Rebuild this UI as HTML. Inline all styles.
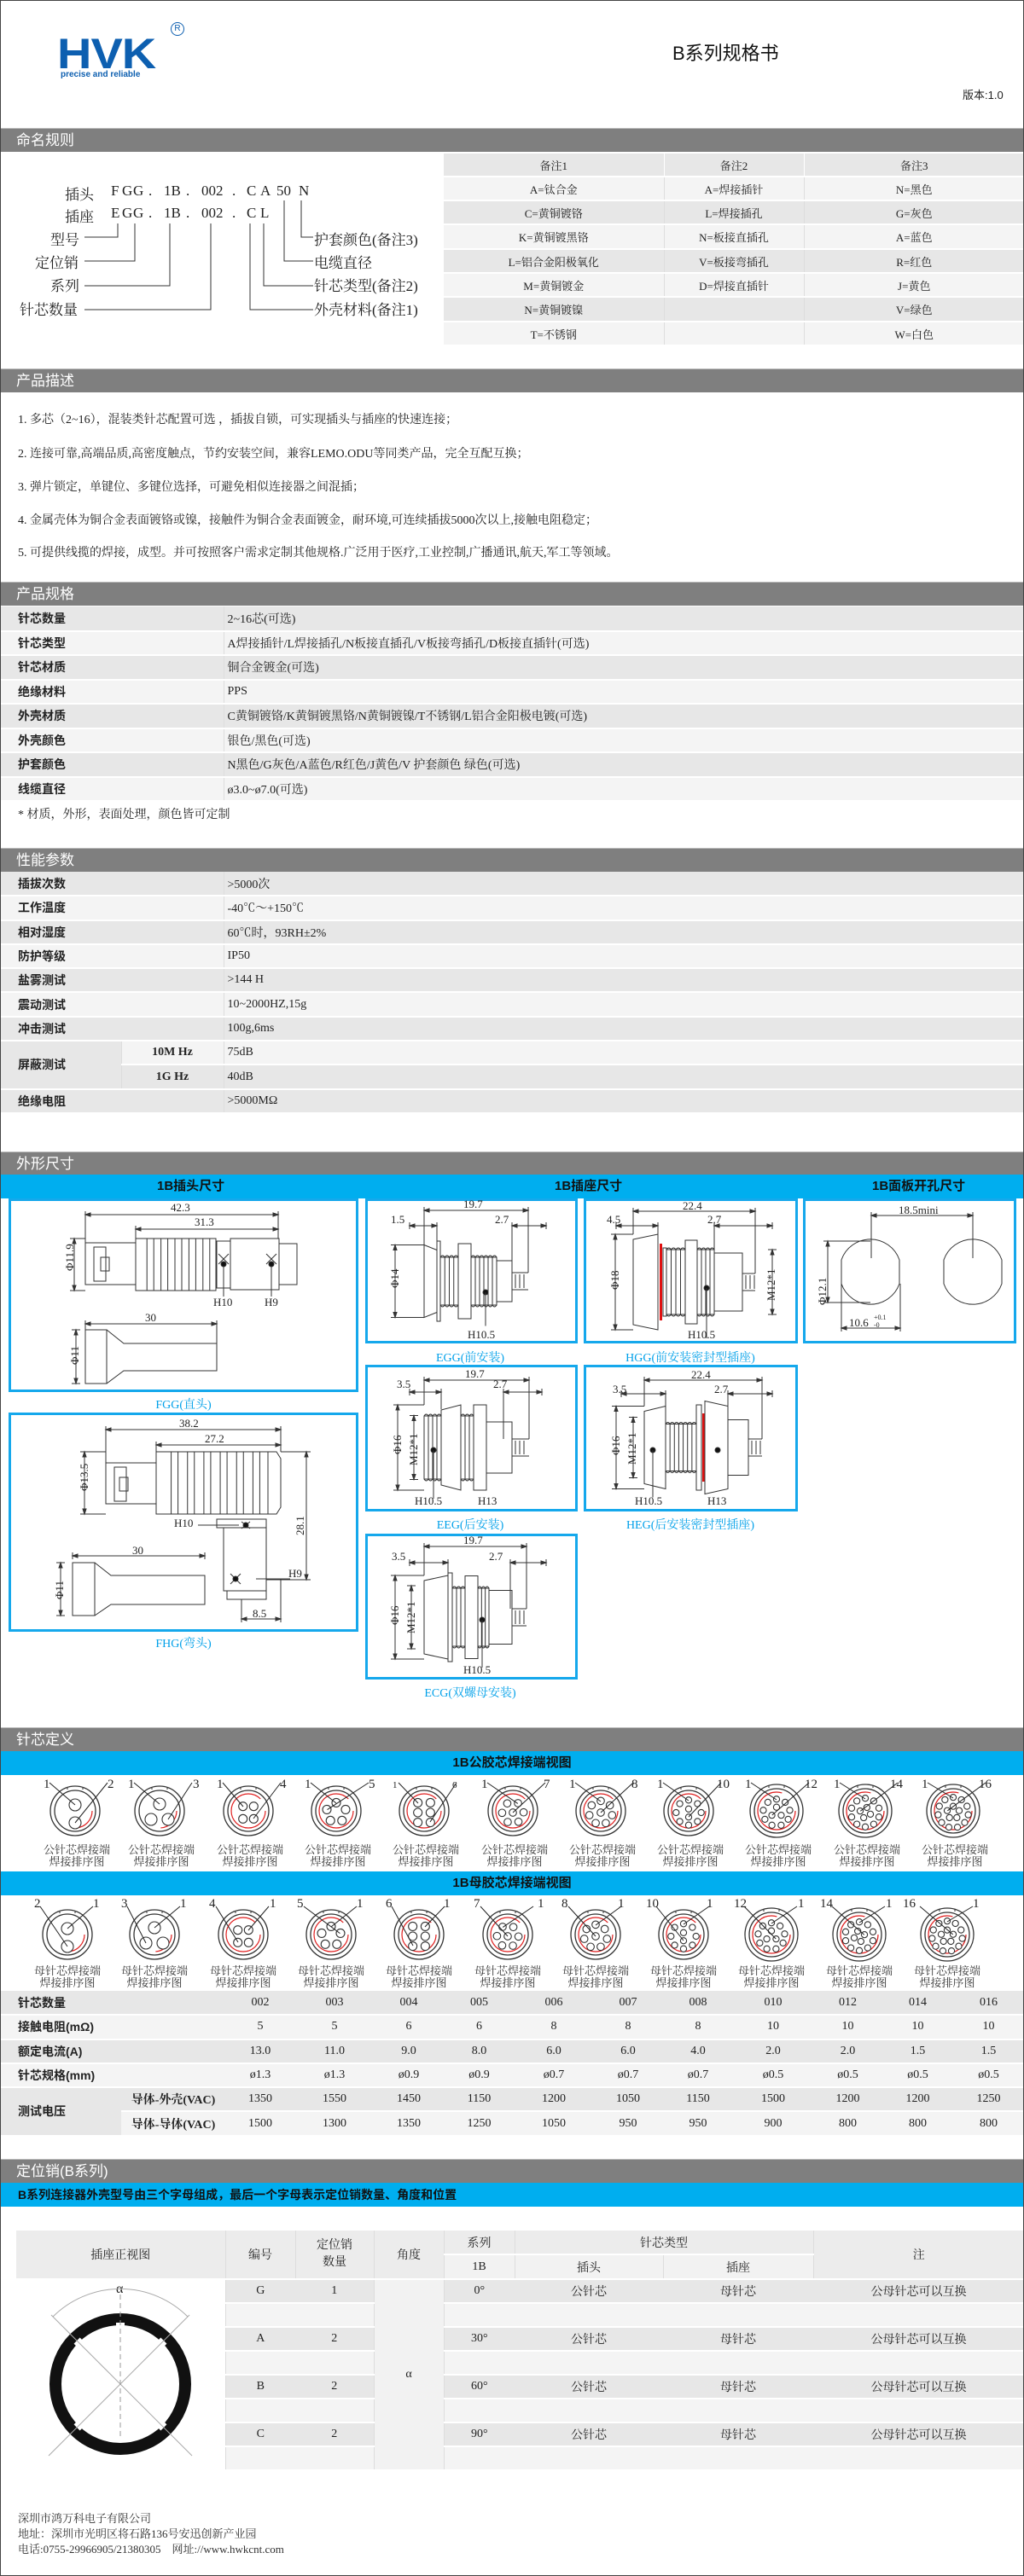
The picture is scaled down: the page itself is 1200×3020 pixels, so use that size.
<!DOCTYPE html>
<html><head><meta charset="utf-8">
<style>
*{margin:0;padding:0;box-sizing:border-box}
body{width:1200px;height:3020px;position:relative;background:#fff;font-family:"Liberation Serif","Noto Serif CJK SC",serif;color:#222;overflow:hidden}
.a{position:absolute;white-space:nowrap}
.bar{position:absolute;left:0;width:1200px;height:28px;background:#7f7f7f;color:#fff;font-family:"Liberation Sans","Noto Sans CJK SC",sans-serif;font-size:17px;line-height:28px;padding-left:19px;border-top:1px solid #bbb}
.blue{position:absolute;left:0;width:1200px;height:28px;background:#00aeef;font-family:"Liberation Sans","Noto Sans CJK SC",sans-serif;font-weight:bold;font-size:15px;line-height:28px;color:#111}
table{position:absolute;border-collapse:collapse;font-size:14px}
td{border-bottom:2px solid #fff;padding:0;vertical-align:middle}
tr:nth-child(odd) td{background:#e7e7e7}
tr:nth-child(even) td{background:#f4f4f4}
.lb{font-weight:bold;font-family:"Liberation Sans","Noto Sans CJK SC",sans-serif;padding-left:21px;font-size:14px}
.c{text-align:center}
.nm{font-size:17px}
.cap{position:absolute;color:#00a0e9;font-size:14px;text-align:center;width:260px}
.bx{position:absolute;border:3px solid #15a8ec}
.pl{position:absolute;font-size:13px;text-align:center;width:110px;line-height:14px;color:#333}
</style></head><body>
<div style="position:absolute;left:0;top:0;width:1200px;height:3020px;border:1px solid #444;z-index:5;pointer-events:none"></div>

<!-- header -->
<div class="a" style="left:67px;top:30px;font-family:'Liberation Sans',sans-serif;font-weight:bold;font-size:56px;color:#0d5fb0;transform:scaleY(0.9);letter-spacing:-1px">HVK</div>
<div class="a" style="left:71px;top:82px;font-family:'Liberation Sans',sans-serif;font-weight:bold;font-size:10px;color:#0d5fb0">precise and reliable</div>
<div class="a" style="left:200px;top:26px;width:16px;height:16px;border:1.5px solid #0d5fb0;border-radius:50%;font-family:'Liberation Sans',sans-serif;font-size:10px;line-height:13px;text-align:center;color:#0d5fb0">R</div>
<div class="a" style="left:788px;top:45px;font-size:22px;font-family:'Liberation Sans','Noto Sans CJK SC',sans-serif;color:#111">B系列规格书</div>
<div class="a" style="left:1128px;top:101px;font-size:13px;font-family:'Liberation Sans','Noto Sans CJK SC',sans-serif">版本:1.0</div>

<div class="bar" style="top:150px">命名规则</div>

<!-- naming diagram -->
<div class="a nm" style="left:76px;top:214px">插头</div>
<div class="a nm" style="left:76px;top:240px">插座</div>
<div class="a nm" style="left:130px;top:214px">F</div><div class="a nm" style="left:130px;top:240px">E</div>
<div class="a nm" style="left:143px;top:214px">G</div><div class="a nm" style="left:143px;top:240px">G</div>
<div class="a nm" style="left:156px;top:214px">G</div><div class="a nm" style="left:156px;top:240px">G</div>
<div class="a nm" style="left:174px;top:214px">.</div><div class="a nm" style="left:174px;top:240px">.</div>
<div class="a nm" style="left:192px;top:214px">1B</div><div class="a nm" style="left:192px;top:240px">1B</div>
<div class="a nm" style="left:218px;top:214px">.</div><div class="a nm" style="left:218px;top:240px">.</div>
<div class="a nm" style="left:236px;top:214px">002</div><div class="a nm" style="left:236px;top:240px">002</div>
<div class="a nm" style="left:272px;top:214px">.</div><div class="a nm" style="left:272px;top:240px">.</div>
<div class="a nm" style="left:289px;top:214px">C</div><div class="a nm" style="left:289px;top:240px">C</div>
<div class="a nm" style="left:305px;top:214px">A</div><div class="a nm" style="left:305px;top:240px">L</div>
<div class="a nm" style="left:324px;top:214px">50</div>
<div class="a nm" style="left:350px;top:214px">N</div>
<div class="a nm" style="left:59px;top:267px">型号</div>
<div class="a nm" style="left:41px;top:294px">定位销</div>
<div class="a nm" style="left:59px;top:321px">系列</div>
<div class="a nm" style="left:23px;top:349px">针芯数量</div>
<div class="a nm" style="left:368px;top:267px">护套颜色(备注3)</div>
<div class="a nm" style="left:368px;top:294px">电缆直径</div>
<div class="a nm" style="left:368px;top:321px">针芯类型(备注2)</div>
<div class="a nm" style="left:368px;top:349px">外壳材料(备注1)</div>

<table style="left:520px;top:180px;width:680px;font-size:13px">
<colgroup><col style="width:258px"><col style="width:164px"><col></colgroup>
<tr style="height:27px"><td class="c" style="border-right:1px solid #fff">备注1</td><td class="c" style="border-right:1px solid #fff">备注2</td><td class="c">备注3</td></tr>
<tr style="height:28px"><td class="c" style="border-right:1px solid #ddd">A=钛合金</td><td class="c" style="border-right:1px solid #ddd">A=焊接插针</td><td class="c">N=黑色</td></tr>
<tr style="height:28px"><td class="c" style="border-right:1px solid #ddd">C=黄铜镀铬</td><td class="c" style="border-right:1px solid #ddd">L=焊接插孔</td><td class="c">G=灰色</td></tr>
<tr style="height:29px"><td class="c" style="border-right:1px solid #ddd">K=黄铜镀黑铬</td><td class="c" style="border-right:1px solid #ddd">N=板接直插孔</td><td class="c">A=蓝色</td></tr>
<tr style="height:28px"><td class="c" style="border-right:1px solid #ddd">L=铝合金阳极氧化</td><td class="c" style="border-right:1px solid #ddd">V=板接弯插孔</td><td class="c">R=红色</td></tr>
<tr style="height:28px"><td class="c" style="border-right:1px solid #ddd">M=黄铜镀金</td><td class="c" style="border-right:1px solid #ddd">D=焊接直插针</td><td class="c">J=黄色</td></tr>
<tr style="height:29px"><td class="c" style="border-right:1px solid #ddd">N=黄铜镀镍</td><td style="border-right:1px solid #ddd"></td><td class="c">V=绿色</td></tr>
<tr style="height:28px"><td class="c" style="border-right:1px solid #ddd">T=不锈钢</td><td style="border-right:1px solid #ddd"></td><td class="c">W=白色</td></tr>
</table>

<div class="bar" style="top:432px">产品描述</div>
<div class="a" style="left:21px;top:481px;font-size:14px">1. 多芯（2~16），混装类针芯配置可选 ，插拔自锁，可实现插头与插座的快速连接；</div>
<div class="a" style="left:21px;top:521px;font-size:14px">2. 连接可靠,高端品质,高密度触点，节约安装空间，兼容LEMO.ODU等同类产品，完全互配互换；</div>
<div class="a" style="left:21px;top:560px;font-size:14px">3. 弹片锁定，单键位、多键位选择，可避免相似连接器之间混插；</div>
<div class="a" style="left:21px;top:599px;font-size:14px">4. 金属壳体为铜合金表面镀铬或镍，接触件为铜合金表面镀金，耐环境,可连续插拔5000次以上,接触电阻稳定；</div>
<div class="a" style="left:21px;top:637px;font-size:14px">5. 可提供线揽的焊接，成型。并可按照客户需求定制其他规格.广泛用于医疗,工业控制,广播通讯,航天,军工等领域。</div>

<div class="bar" style="top:682px">产品规格</div>
<table style="left:0;top:711px;width:1200px">
<colgroup><col style="width:262px"><col></colgroup>
<tr style="height:28.5px"><td class="lb" style="border-right:1px solid #ddd">针芯数量</td><td style="padding-left:4px">2~16芯(可选)</td></tr>
<tr style="height:28.5px"><td class="lb" style="border-right:1px solid #ddd">针芯类型</td><td style="padding-left:4px">A焊接插针/L焊接插孔/N板接直插孔/V板接弯插孔/D板接直插针(可选)</td></tr>
<tr style="height:28.5px"><td class="lb" style="border-right:1px solid #ddd">针芯材质</td><td style="padding-left:4px">铜合金镀金(可选)</td></tr>
<tr style="height:28.5px"><td class="lb" style="border-right:1px solid #ddd">绝缘材料</td><td style="padding-left:4px">PPS</td></tr>
<tr style="height:28.5px"><td class="lb" style="border-right:1px solid #ddd">外壳材质</td><td style="padding-left:4px">C黄铜镀铬/K黄铜镀黑铬/N黄铜镀镍/T不锈钢/L铝合金阳极电镀(可选)</td></tr>
<tr style="height:28.5px"><td class="lb" style="border-right:1px solid #ddd">外壳颜色</td><td style="padding-left:4px">银色/黑色(可选)</td></tr>
<tr style="height:28.5px"><td class="lb" style="border-right:1px solid #ddd">护套颜色</td><td style="padding-left:4px">N黑色/G灰色/A蓝色/R红色/J黄色/V 护套颜色 绿色(可选)</td></tr>
<tr style="height:28.5px"><td class="lb" style="border-right:1px solid #ddd">线缆直径</td><td style="padding-left:4px">ø3.0~ø7.0(可选)</td></tr>
</table>
<div class="a" style="left:21px;top:944px;font-size:14px">* 材质，外形，表面处理，颜色皆可定制</div>

<div class="bar" style="top:994px">性能参数</div>
<table style="left:0;top:1022px;width:1200px">
<colgroup><col style="width:142px"><col style="width:120px"><col></colgroup>
<tr style="height:28.3px"><td class="lb" colspan="2" style="border-right:1px solid #ddd">插拔次数</td><td style="padding-left:4px">&gt;5000次</td></tr>
<tr style="height:28.3px"><td class="lb" colspan="2" style="border-right:1px solid #ddd">工作温度</td><td style="padding-left:4px">-40℃～+150℃</td></tr>
<tr style="height:28.3px"><td class="lb" colspan="2" style="border-right:1px solid #ddd">相对湿度</td><td style="padding-left:4px">60℃时，93RH±2%</td></tr>
<tr style="height:28.3px"><td class="lb" colspan="2" style="border-right:1px solid #ddd">防护等级</td><td style="padding-left:4px">IP50</td></tr>
<tr style="height:28.3px"><td class="lb" colspan="2" style="border-right:1px solid #ddd">盐雾测试</td><td style="padding-left:4px">&gt;144 H</td></tr>
<tr style="height:28.3px"><td class="lb" colspan="2" style="border-right:1px solid #ddd">震动测试</td><td style="padding-left:4px">10~2000HZ,15g</td></tr>
<tr style="height:28.3px"><td class="lb" colspan="2" style="border-right:1px solid #ddd">冲击测试</td><td style="padding-left:4px">100g,6ms</td></tr>
<tr style="height:28.3px"><td class="lb" rowspan="2" style="background:#e7e7e7;border-right:1px solid #ddd">屏蔽测试</td><td class="c" style="font-weight:bold;border-right:1px solid #ddd">10M Hz</td><td style="padding-left:4px">75dB</td></tr>
<tr style="height:28.3px"><td class="c" style="font-weight:bold;border-right:1px solid #ddd">1G Hz</td><td style="padding-left:4px">40dB</td></tr>
<tr style="height:28.3px"><td class="lb" colspan="2" style="background:#e7e7e7;border-right:1px solid #ddd">绝缘电阻</td><td style="padding-left:4px;background:#e7e7e7">&gt;5000MΩ</td></tr>
</table>

<div class="bar" style="top:1350px">外形尺寸</div>
<div class="blue" style="top:1377px"><span class="a" style="left:184px">1B插头尺寸</span><span class="a" style="left:650px">1B插座尺寸</span><span class="a" style="left:1022px">1B面板开孔尺寸</span></div>

<div class="bx" style="left:10px;top:1405px;width:410px;height:227px"></div>
<div class="bx" style="left:10px;top:1656px;width:410px;height:257px"></div>
<div class="bx" style="left:428px;top:1405px;width:249px;height:170px"></div>
<div class="bx" style="left:428px;top:1600px;width:249px;height:172px"></div>
<div class="bx" style="left:428px;top:1798px;width:249px;height:171px"></div>
<div class="bx" style="left:684px;top:1405px;width:251px;height:170px"></div>
<div class="bx" style="left:684px;top:1600px;width:251px;height:172px"></div>
<div class="bx" style="left:941px;top:1405px;width:250px;height:170px"></div>
<div class="cap" style="left:85px;top:1636px">FGG(直头)</div>
<div class="cap" style="left:85px;top:1916px">FHG(弯头)</div>
<div class="cap" style="left:421px;top:1581px">EGG(前安装)</div>
<div class="cap" style="left:421px;top:1777px">EEG(后安装)</div>
<div class="cap" style="left:421px;top:1974px">ECG(双螺母安装)</div>
<div class="cap" style="left:679px;top:1581px">HGG(前安装密封型插座)</div>
<div class="cap" style="left:679px;top:1777px">HEG(后安装密封型插座)</div>

<div class="bar" style="top:2025px">针芯定义</div>
<div class="blue" style="top:2053px;text-align:center">1B公胶芯焊接端视图</div>
<div class="blue" style="top:2194px;text-align:center">1B母胶芯焊接端视图</div>

<!-- male labels -->
<div class="pl" style="left:35px;top:2162px">公针芯焊接端<br>焊接排序图</div>
<div class="pl" style="left:134px;top:2162px">公针芯焊接端<br>焊接排序图</div>
<div class="pl" style="left:238px;top:2162px">公针芯焊接端<br>焊接排序图</div>
<div class="pl" style="left:341px;top:2162px">公针芯焊接端<br>焊接排序图</div>
<div class="pl" style="left:444px;top:2162px">公针芯焊接端<br>焊接排序图</div>
<div class="pl" style="left:548px;top:2162px">公针芯焊接端<br>焊接排序图</div>
<div class="pl" style="left:651px;top:2162px">公针芯焊接端<br>焊接排序图</div>
<div class="pl" style="left:754px;top:2162px">公针芯焊接端<br>焊接排序图</div>
<div class="pl" style="left:857px;top:2162px">公针芯焊接端<br>焊接排序图</div>
<div class="pl" style="left:961px;top:2162px">公针芯焊接端<br>焊接排序图</div>
<div class="pl" style="left:1064px;top:2162px">公针芯焊接端<br>焊接排序图</div>
<!-- female labels -->
<div class="pl" style="left:24px;top:2304px">母针芯焊接端<br>焊接排序图</div>
<div class="pl" style="left:126px;top:2304px">母针芯焊接端<br>焊接排序图</div>
<div class="pl" style="left:230px;top:2304px">母针芯焊接端<br>焊接排序图</div>
<div class="pl" style="left:333px;top:2304px">母针芯焊接端<br>焊接排序图</div>
<div class="pl" style="left:436px;top:2304px">母针芯焊接端<br>焊接排序图</div>
<div class="pl" style="left:540px;top:2304px">母针芯焊接端<br>焊接排序图</div>
<div class="pl" style="left:643px;top:2304px">母针芯焊接端<br>焊接排序图</div>
<div class="pl" style="left:746px;top:2304px">母针芯焊接端<br>焊接排序图</div>
<div class="pl" style="left:849px;top:2304px">母针芯焊接端<br>焊接排序图</div>
<div class="pl" style="left:952px;top:2304px">母针芯焊接端<br>焊接排序图</div>
<div class="pl" style="left:1055px;top:2304px">母针芯焊接端<br>焊接排序图</div>

<table style="left:0;top:2334px;width:1200px">
<colgroup><col style="width:142px"><col style="width:122px"><col style="width:82px"><col style="width:92px"><col style="width:82px"><col style="width:83px"><col style="width:92px"><col style="width:82px"><col style="width:82px"><col style="width:94px"><col style="width:81px"><col style="width:83px"><col></colgroup>
<tr style="height:28.3px"><td class="lb" colspan="2">针芯数量</td><td class="c">002</td><td class="c">003</td><td class="c">004</td><td class="c">005</td><td class="c">006</td><td class="c">007</td><td class="c">008</td><td class="c">010</td><td class="c">012</td><td class="c">014</td><td class="c">016</td></tr>
<tr style="height:28.3px"><td class="lb" colspan="2">接触电阻(mΩ)</td><td class="c">5</td><td class="c">5</td><td class="c">6</td><td class="c">6</td><td class="c">8</td><td class="c">8</td><td class="c">8</td><td class="c">10</td><td class="c">10</td><td class="c">10</td><td class="c">10</td></tr>
<tr style="height:28.3px"><td class="lb" colspan="2">额定电流(A)</td><td class="c">13.0</td><td class="c">11.0</td><td class="c">9.0</td><td class="c">8.0</td><td class="c">6.0</td><td class="c">6.0</td><td class="c">4.0</td><td class="c">2.0</td><td class="c">2.0</td><td class="c">1.5</td><td class="c">1.5</td></tr>
<tr style="height:28.3px"><td class="lb" colspan="2">针芯规格(mm)</td><td class="c">ø1.3</td><td class="c">ø1.3</td><td class="c">ø0.9</td><td class="c">ø0.9</td><td class="c">ø0.7</td><td class="c">ø0.7</td><td class="c">ø0.7</td><td class="c">ø0.5</td><td class="c">ø0.5</td><td class="c">ø0.5</td><td class="c">ø0.5</td></tr>
<tr style="height:28.3px"><td class="lb" rowspan="2" style="background:#e7e7e7">测试电压</td><td class="c" style="font-weight:bold">导体-外壳(VAC)</td><td class="c">1350</td><td class="c">1550</td><td class="c">1450</td><td class="c">1150</td><td class="c">1200</td><td class="c">1050</td><td class="c">1150</td><td class="c">1500</td><td class="c">1200</td><td class="c">1200</td><td class="c">1250</td></tr>
<tr style="height:28.3px"><td class="c" style="font-weight:bold">导体-导体(VAC)</td><td class="c">1500</td><td class="c">1300</td><td class="c">1350</td><td class="c">1250</td><td class="c">1050</td><td class="c">950</td><td class="c">950</td><td class="c">900</td><td class="c">800</td><td class="c">800</td><td class="c">800</td></tr>
</table>

<div class="bar" style="top:2531px">定位销(B系列)</div>
<div class="blue" style="top:2559px;padding-left:21px;font-size:14px">B系列连接器外壳型号由三个字母组成，最后一个字母表示定位销数量、角度和位置</div>

<table style="left:19px;top:2615px;width:1181px;font-size:14px">
<colgroup><col style="width:245px"><col style="width:82px"><col style="width:92px"><col style="width:82px"><col style="width:83px"><col style="width:174px"><col style="width:176px"><col></colgroup>
<tr style="height:28px"><td rowspan="2" class="c" style="background:#ececec;border-right:1px solid #ddd">插座正视图</td><td rowspan="2" class="c" style="background:#ececec;border-right:1px solid #ddd">编号</td><td rowspan="2" class="c" style="background:#ececec;border-right:1px solid #ddd;line-height:20px">定位销<br>数量</td><td rowspan="2" class="c" style="background:#ececec;border-right:1px solid #ddd">角度</td><td class="c" style="background:#ececec;border-right:1px solid #ddd">系列</td><td colspan="2" class="c" style="background:#ececec;border-right:1px solid #ddd">针芯类型</td><td rowspan="2" class="c" style="background:#ececec">注</td></tr>
<tr style="height:29px"><td class="c" style="background:#f2f2f2;border-right:1px solid #ddd">1B</td><td class="c" style="background:#f2f2f2;border-right:1px solid #ddd">插头</td><td class="c" style="background:#f2f2f2;border-right:1px solid #ddd">插座</td></tr>
<tr style="height:28px"><td rowspan="8" style="background:#fff;border-right:1px solid #ddd"></td><td class="c">G</td><td class="c">1</td><td rowspan="8" class="c" style="background:#f2f2f2;border-right:1px solid #ddd;border-left:1px solid #ddd">α</td><td class="c">0°</td><td class="c">公针芯</td><td class="c">母针芯</td><td class="c">公母针芯可以互换</td></tr>
<tr style="height:28px"><td></td><td></td><td></td><td></td><td></td><td></td></tr>
<tr style="height:28px"><td class="c">A</td><td class="c">2</td><td class="c">30°</td><td class="c">公针芯</td><td class="c">母针芯</td><td class="c">公母针芯可以互换</td></tr>
<tr style="height:28px"><td></td><td></td><td></td><td></td><td></td><td></td></tr>
<tr style="height:28px"><td class="c">B</td><td class="c">2</td><td class="c">60°</td><td class="c">公针芯</td><td class="c">母针芯</td><td class="c">公母针芯可以互换</td></tr>
<tr style="height:28px"><td></td><td></td><td></td><td></td><td></td><td></td></tr>
<tr style="height:28px"><td class="c">C</td><td class="c">2</td><td class="c">90°</td><td class="c">公针芯</td><td class="c">母针芯</td><td class="c">公母针芯可以互换</td></tr>
<tr style="height:28px"><td></td><td></td><td></td><td></td><td></td><td></td></tr>
</table>

<div class="a" style="left:21px;top:2942px;font-size:13px;color:#333">深圳市鸿万科电子有限公司</div>
<div class="a" style="left:21px;top:2960px;font-size:13px;color:#333">地址：深圳市光明区将石路136号安迅创新产业园</div>
<div class="a" style="left:21px;top:2978px;font-size:13px;color:#333">电话:0755-29966905/21380305　网址://www.hwkcnt.com</div>

<svg id="g" class="a" style="left:0;top:0" width="1200" height="3020" font-family="Liberation Serif, Noto Serif CJK SC, serif" font-size="13" fill="#222">
<g stroke="#333" stroke-width="1" fill="none" id="lines">
<!-- naming lines -->
<path d="M99 278H138V262 M99 306H158V262 M99 335H199V262 M99 363H247V262 M367 363H293V262 M367 335H309V262 M367 306H333V235 M367 278H353V235"/>
</g>
<g font-size="13">
<text x="200" y="1420">42.3</text><text x="228" y="1437">31.3</text>
<text x="250" y="1531">H10</text><text x="310" y="1531">H9</text>
<text x="170" y="1549">30</text>
<text x="86" y="1490" transform="rotate(-90 86 1490)">Φ11.9</text>
<text x="92" y="1600" transform="rotate(-90 92 1600)">Φ11</text>
<text x="210" y="1673">38.2</text><text x="240" y="1691">27.2</text>
<text x="103" y="1748" transform="rotate(-90 103 1748)">Φ13.5</text>
<text x="356" y="1800" transform="rotate(-90 356 1800)">28.1</text>
<text x="204" y="1790">H10</text><text x="338" y="1849">H9</text>
<text x="155" y="1822">30</text><text x="74" y="1875" transform="rotate(-90 74 1875)">Φ11</text>
<text x="296" y="1896">8.5</text>
<text x="543" y="1416">19.7</text><text x="458" y="1434">1.5</text><text x="580" y="1434">2.7</text>
<text x="467" y="1510" transform="rotate(-90 467 1510)">Φ14</text><text x="548" y="1569">H10.5</text>
<text x="545" y="1615">19.7</text><text x="465" y="1627">3.5</text><text x="578" y="1627">2.7</text>
<text x="470" y="1705" transform="rotate(-90 470 1705)">Φ16</text><text x="489" y="1718" transform="rotate(-90 489 1718)">M12*1</text>
<text x="486" y="1764">H10.5</text><text x="560" y="1764">H13</text>
<text x="543" y="1810">19.7</text><text x="459" y="1829">3.5</text><text x="573" y="1829">2.7</text>
<text x="467" y="1905" transform="rotate(-90 467 1905)">Φ16</text><text x="486" y="1915" transform="rotate(-90 486 1915)">M12*1</text>
<text x="543" y="1962">H10.5</text>
<text x="800" y="1418">22.4</text><text x="711" y="1434">4.5</text><text x="829" y="1434">2.7</text>
<text x="725" y="1512" transform="rotate(-90 725 1512)">Φ18</text><text x="908" y="1525" transform="rotate(-90 908 1525)">M12*1</text>
<text x="806" y="1569">H10.5</text>
<text x="810" y="1616">22.4</text><text x="718" y="1633">3.5</text><text x="837" y="1633">2.7</text>
<text x="726" y="1706" transform="rotate(-90 726 1706)">Φ16</text><text x="745" y="1717" transform="rotate(-90 745 1717)">M12*1</text>
<text x="744" y="1764">H10.5</text><text x="829" y="1764">H13</text>
<text x="1053" y="1423">18.5mini</text>
<text x="968" y="1530" transform="rotate(-90 968 1530)">Φ12.1</text>
<text x="995" y="1555">10.6</text><text x="1024" y="1547" font-size="8">+0.1</text><text x="1024" y="1556" font-size="8">-0</text>
<text x="136" y="2688" font-size="16">α</text>
</g>
<g id="pins"></g>
<g font-size="15">
<text x="51" y="2096">1</text><text x="126" y="2096">2</text>
<text x="150" y="2096">1</text><text x="226" y="2096">3</text>
<text x="254" y="2096">1</text><text x="328" y="2096">4</text>
<text x="357" y="2096">1</text><text x="432" y="2096">5</text>
<text x="460" y="2096" font-size="11">1</text><text x="530" y="2096" font-size="11">6</text>
<text x="564" y="2096">1</text><text x="637" y="2096">7</text>
<text x="667" y="2096">1</text><text x="740" y="2096">8</text>
<text x="770" y="2096">1</text><text x="840" y="2096">10</text>
<text x="873" y="2096">1</text><text x="943" y="2096">12</text>
<text x="977" y="2096">1</text><text x="1043" y="2096">14</text>
<text x="1080" y="2096">1</text><text x="1147" y="2096">16</text>
<text x="40" y="2236">2</text><text x="109" y="2236">1</text>
<text x="142" y="2236">3</text><text x="211" y="2236">1</text>
<text x="245" y="2236">4</text><text x="316" y="2236">1</text>
<text x="348" y="2236">5</text><text x="418" y="2236">1</text>
<text x="452" y="2236">6</text><text x="520" y="2236">1</text>
<text x="555" y="2236">7</text><text x="630" y="2236">1</text>
<text x="658" y="2236">8</text><text x="724" y="2236">1</text>
<text x="757" y="2236">10</text><text x="828" y="2236">1</text>
<text x="860" y="2236">12</text><text x="935" y="2236">1</text>
<text x="961" y="2236">14</text><text x="1038" y="2236">1</text>
<text x="1058" y="2236">16</text><text x="1140" y="2236">1</text>
</g>
</svg>
<script>
(function(){
var NS="http://www.w3.org/2000/svg",L=document.getElementById('lines'),P=document.getElementById('pins');
function el(par,t,a){var e=document.createElementNS(NS,t);for(var k in a)e.setAttribute(k,a[k]);par.appendChild(e);return e;}
function p(d,extra){var a={d:d};if(extra)for(var k in extra)a[k]=extra[k];return el(L,'path',a);}
function r(x,y,w,h){el(L,'rect',{x:x,y:y,width:w,height:h});}
function dimH(y,x1,x2){p('M'+x1+' '+y+'H'+x2+'M'+x1+' '+(y-4)+'v'+(8)+'M'+x2+' '+(y-4)+'v8');
 el(L,'path',{d:'M'+x1+' '+y+'l6 -2v4z M'+x2+' '+y+'l-6 -2v4z',fill:'#333'});}
function dimV(x,y1,y2){p('M'+x+' '+y1+'V'+y2+'M'+(x-5)+' '+y1+'h10M'+(x-5)+' '+y2+'h10');
 el(L,'path',{d:'M'+x+' '+y1+'l-2 6h4z M'+x+' '+y2+'l-2 -6h4z',fill:'#333'});}
function grooves(x1,x2,y1,y2,n){for(var i=0;i<n;i++){var x=x1+(x2-x1)*(i+0.5)/n;r(x-4,y1,8,y2-y1);}}
function thr(x1,x2,y1,y2){var d='',n=Math.max(2,Math.round((x2-x1)/5));for(var i=0;i<n;i++){var a=x1+(x2-x1)*i/n,b=x1+(x2-x1)*(i+1)/n;d+='M'+a+' '+y1+'Q'+((a+b)/2)+' '+(y1-4)+' '+b+' '+y1+'M'+a+' '+y2+'Q'+((a+b)/2)+' '+(y2+4)+' '+b+' '+y2+'M'+a+' '+y1+'V'+y2;}p(d);r(x1,y1,x2-x1,y2-y1);}
function dot(x,y){el(L,'circle',{cx:x,cy:y,r:3,fill:'#111'});}
// FGG
dimH(1424,100,326);dimH(1441,159,326);p('M100 1424V1457M326 1424V1452M159 1441V1452');
r(100,1457,59,49);r(110,1462,14,40);r(118,1474,10,16);
r(159,1452,94,61);grooves(168,250,1452,1513,5);r(254,1455,16,55);r(270,1452,57,60);r(327,1458,21,48);
p('M256 1470l12 12m0 -12l-12 12M312 1470l12 12m0-12l-12 12');dot(262,1482);dot(318,1482);
p('M262 1485V1520M318 1485V1520');dimV(87,1452,1513);p('M82 1452H100M82 1513H100');
dimH(1552,100,254);p('M100 1552V1559M254 1552V1575');
r(100,1559,25,63);p('M125 1559L145 1575H254V1607H145L125 1622');dimV(89,1559,1622);
// FHG
dimH(1676,124,329);dimH(1694,183,329);p('M124 1676V1715M329 1676V1702M183 1694V1702');
r(124,1715,59,48);r(134,1720,14,40);r(140,1732,10,16);r(183,1702,131,73);grooves(195,310,1702,1775,6);
p('M314 1702h10l5 8v57l-5 8h-10z');r(254,1781,58,10);r(262,1791,50,74);r(266,1865,46,10);
p('M270 1845l12 12m0-12l-12 12M283 1784l10 8m0-8l-10 8');dot(276,1851);dot(288,1788);
p('M232 1788H280M300 1851H340');dimV(359,1702,1852);p('M329 1702H364M312 1852H364');dimV(99,1702,1775);p('M94 1702H124M94 1775H124');
dimH(1824,85,240);r(85,1832,26,62);p('M111 1832L130 1847H240V1881H130L111 1894');dimV(71,1832,1894);
dimH(1898,283,329);p('M283 1875V1898M329 1852V1898');
// sockets generic
function sock(o){var c=o.c;
 dimH(o.dy1,o.d1a,o.d1b);p('M'+o.d1a+' '+o.dy1+'V'+(c-o.h/2)+'M'+o.d1b+' '+o.dy1+'V'+(c-10));
 dimH(o.dy2,o.d2a,o.d2b);dimH(o.dy2,o.d3a,o.d3b);p('M'+o.d2b+' '+o.dy2+'V'+(c-o.h/2+5)+'M'+o.d3a+' '+o.dy2+'V'+(c-10));
 dimV(o.vx,c-o.h/2,c+o.h/2);p('M'+(o.vx-5)+' '+(c-o.h/2)+'H'+o.d1a+'M'+(o.vx-5)+' '+(c+o.h/2)+'H'+o.d1a);
 o.parts.forEach(function(q){if(q[0]=='r')r(q[1],c-q[3]/2,q[2]-q[1],q[3]);else if(q[0]=='t')thr(q[1],q[2],c-q[3]/2,c+q[3]/2);else if(q[0]=='f'){p('M'+q[1]+' '+(c-q[3]/2+6)+'L'+q[2]+' '+(c-q[3]/2)+'V'+(c+q[3]/2)+'L'+q[1]+' '+(c+q[3]/2-6)+'Z');}else if(q[0]=='g'){p('M'+q[1]+' '+(c-q[3]/2)+'L'+q[2]+' '+(c-q[3]/2+6)+'V'+(c+q[3]/2-6)+'L'+q[1]+' '+(c+q[3]/2)+'Z');}else if(q[0]=='red'){el(L,'rect',{x:q[1],y:c-q[2]/2,width:3,height:q[2],fill:'#e01010',stroke:'none'});}});
 var pe=o.pe;p('M'+pe[0]+' '+(c-10)+'H'+pe[1]+'M'+pe[0]+' '+(c+10)+'H'+pe[1]+'M'+(pe[0]+4)+' '+(c-8)+'v16M'+(pe[0]+9)+' '+(c-8)+'v16M'+(pe[0]+14)+' '+(c-8)+'v16');
 dot(o.dot[0],o.dot[1]);p('M'+o.dot[0]+' '+o.dot[1]+'V'+(c+o.h/2+10));
 if(o.mv){dimV(o.mv,c-o.mh/2,c+o.mh/2);}
}
sock({c:1502,h:85,dy1:1419,d1a:497,d1b:619,dy2:1437,d2a:480,d2b:512,d3a:600,d3b:640,vx:463,
 parts:[['g',497,512,85],['r',512,516,94],['t',516,537,56],['r',537,552,88],['t',552,582,56],['r',582,600,48]],pe:[600,619],dot:[569,1515]});
sock({c:1697,h:100,dy1:1618,d1a:497,d1b:620,dy2:1632,d2a:480,d2b:517,d3a:590,d3b:635,vx:466,mv:485,mh:75,
 parts:[['t',497,517,74],['f',517,540,100],['t',540,555,74],['r',555,570,100],['r',570,600,60]],pe:[600,620],dot:[508,1700]});
sock({c:1896,h:98,dy1:1813,d1a:497,d1b:617,dy2:1832,d2a:480,d2b:525,d3a:598,d3b:640,vx:463,mv:482,mh:74,
 parts:[['f',497,525,98],['r',525,530,104],['t',530,545,68],['r',545,560,97],['t',560,573,68],['r',573,600,63]],pe:[600,617],dot:[565,1899]});
sock({c:1503,h:112,dy1:1420,d1a:742,d1b:885,dy2:1437,d2a:722,d2b:771,d3a:837,d3b:905,vx:721,mv:905,mh:76,
 parts:[['f',742,771,112],['red',773,90],['r',777,781,80],['t',781,803,76],['r',803,817,98],['t',817,837,76],['r',837,870,68]],pe:[870,885],dot:[828,1510]});
sock({c:1697,h:97,dy1:1618,d1a:755,d1b:893,dy2:1634,d2a:728,d2b:780,d3a:853,d3b:905,vx:722,mv:742,mh:71,
 parts:[['f',755,780,97],['t',780,816,55],['r',816,822,100],['red',823,80],['g',826,853,109],['r',853,877,65]],pe:[877,893],dot:[765,1700]});
dot(841,1700);
// panel cutout
dimH(1425,1021,1140);p('M1021 1425V1475M1140 1425V1475');
[1020,1140].forEach(function(x){p('M'+(x-34)+' '+(1491-14)+'A36 36 0 0 1 '+(x+34)+' '+(1491-14)+'V'+(1491+14)+'A36 36 0 0 1 '+(x-34)+' '+(1491+14)+'Z');});
dimV(970,1455,1527);p('M965 1455H1020M965 1527H1020');dimH(1557,986,1055);p('M986 1505V1560M1055 1505V1560');
// pin circles
function pos(n){var a=[];function ring(k,rr,st){for(var i=0;i<k;i++){var t=-Math.PI/2+st+2*Math.PI*i/k;a.push([rr*Math.cos(t),rr*Math.sin(t)]);}}
 if(n==2){a=[[0,-9],[0,12]];}else if(n==3){a=[[0,-10],[-10,8],[10,8]];}else if(n==4){a=[[-6,-7],[6,-7],[-6,7],[6,7]];}
 else if(n==5)ring(5,11,0);else if(n==6){a=[[-7,-11],[7,-11],[-7,0],[7,0],[-7,11],[7,11]];}
 else if(n==7){ring(6,12,0.5);a.push([0,0]);}else if(n==8){ring(7,13,0);a.push([0,0]);}
 else if(n==10){ring(8,14,0);a.push([0,-4],[0,5]);}else if(n==12){ring(9,15,0);ring(3,6,0);}
 else if(n==14){ring(10,16,0);ring(4,6,0.3);}else{ring(11,17,0);ring(5,7,0);}return a;}
var ns=[2,3,4,5,6,7,8,10,12,14,16],mx=[88,187,291,394,497,601,704,807,910,1014,1117],fx=[79,181,285,388,491,595,698,801,904,1007,1110];
function circ(cx,cy,n,fem){var g=P,ro=29+(n>=12?2:0),ri=ro-5;
 el(g,'circle',{cx:cx,cy:cy,r:ro,fill:'none',stroke:'#333','stroke-width':1.3});
 el(g,'circle',{cx:cx,cy:cy,r:ri,fill:'none',stroke:'#333','stroke-width':1.3});
 el(g,'path',{d:'M'+(cx-9)+' '+(cy-ro+1)+'V'+(cy-ri-1)+'M'+(cx+9)+' '+(cy-ro+1)+'V'+(cy-ri-1),stroke:'#333',fill:'none'});
 var pr=n<=3?7:(n<=6?5:(n<=8?4.3:3.6)),sc=n<=3?1:1.05;
 el(g,'circle',{cx:cx,cy:cy,r:ri-4,fill:'none',stroke:'#e02020','stroke-width':1.2,'stroke-dasharray':n<=3?'30 200':'110 40'});
 var ps=pos(n);ps.forEach(function(q){var x=cx+(fem?-q[0]:q[0])*sc,y=cy+q[1]*sc+2;el(g,'circle',{cx:x,cy:y,r:pr,fill:'#fff',stroke:'#333','stroke-width':1.1});});
 var f=ps[0],l=ps[ps.length-1],x1=cx+(fem?-f[0]:f[0]),y1=cy+f[1]+2,x2=cx+(fem?-l[0]:l[0]),y2=cy+l[1]+2;
 var ly=cy-33;
 if(!fem){el(g,'path',{d:'M'+(cx-30)+' '+ly+'L'+x1+' '+y1+'M'+(cx+38)+' '+ly+'L'+x2+' '+y2,stroke:'#222',fill:'none'});}
 else{el(g,'path',{d:'M'+(cx+30)+' '+ly+'L'+x1+' '+y1+'M'+(cx-32)+' '+ly+'L'+x2+' '+y2,stroke:'#222',fill:'none'});}
}
ns.forEach(function(n,i){circ(mx[i],2123,n,false);circ(fx[i],2268,n,true);});
// ring
var cx=141,cy=2795;
el(P,'circle',{cx:cx,cy:cy,r:76,fill:'none',stroke:'#111','stroke-width':14});
[[0],[45],[135],[225],[315]].forEach(function(a){var t=(a[0]-90)*Math.PI/180;el(P,'rect',{x:-5,y:-72,width:10,height:7,fill:'#fff',transform:'translate('+cx+' '+cy+') rotate('+a[0]+')'});});
el(P,'path',{d:'M60 2714L225 2879M222 2714L57 2879',stroke:'#aaa',fill:'none'});
el(P,'path',{d:'M'+cx+' 2690V2860',stroke:'#999','stroke-dasharray':'6 4',fill:'none'});
el(P,'path',{d:'M62 2716A112 112 0 0 1 220 2716',stroke:'#aaa',fill:'none'});
})();
</script>
</body></html>
